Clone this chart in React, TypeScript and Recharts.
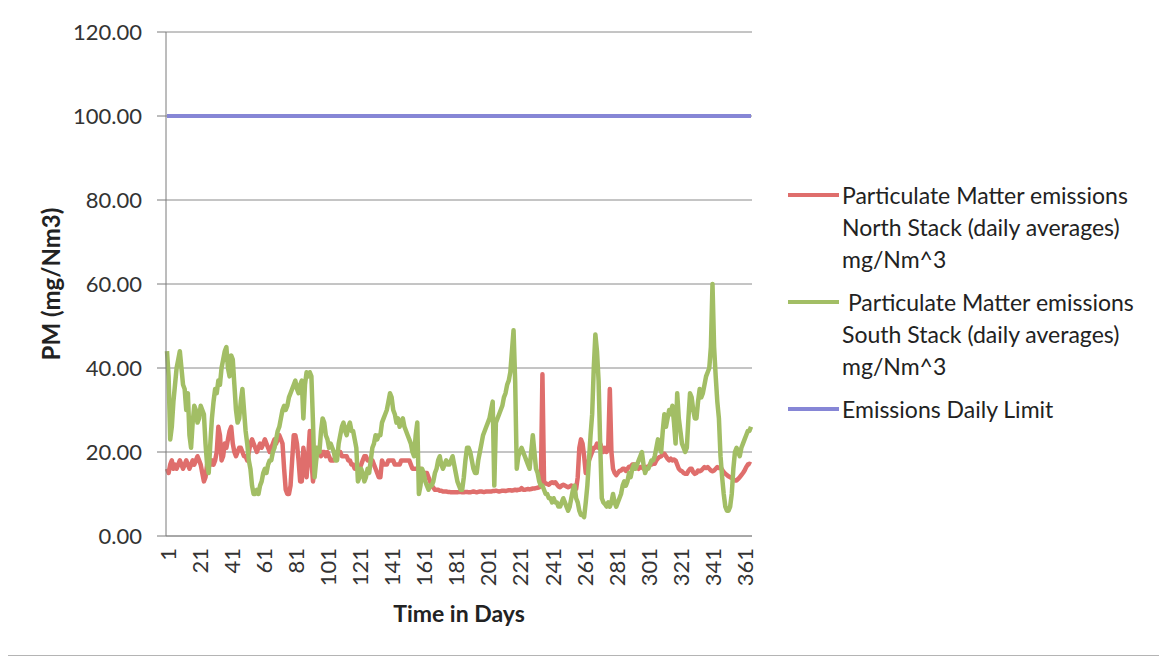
import React from 'react';
import { LineChart, Line, XAxis, YAxis, CartesianGrid, Legend } from 'recharts';

// daily averages, mg/Nm^3
const northStack = [
  16, 15, 17, 18, 16, 17, 16, 17, 18, 17,
  16, 17, 18, 17, 16, 17, 18, 17, 18, 19,
  18, 17, 15, 13, 14, 17, 18, 17, 18, 17,
  18, 20, 26, 24, 18, 19, 22, 21, 23, 25,
  26, 22, 20, 19, 20, 21, 21, 20, 19, 19,
  18, 20, 22, 23, 22, 21, 20, 21, 22, 21,
  22, 23, 22, 21, 20, 21, 22, 23, 22, 23,
  24, 23, 22, 16, 11, 10, 10, 12, 18, 24,
  24, 22, 18, 13, 13, 21, 18, 14, 19, 25,
  18, 13, 16, 21, 20, 20, 19, 20, 20, 19,
  20, 19, 18, 18, 18, 19, 20, 20, 20, 19,
  19, 19, 19, 18, 18, 17, 17, 16, 16, 16,
  16, 17, 18, 19, 19, 18, 18, 18, 18, 17,
  16, 15, 14, 14, 18, 17, 17, 17, 18, 18,
  18, 18, 17, 17, 17, 17, 18, 18, 18, 18,
  18, 18, 17, 16, 16, 16, 16, 16, 16, 15,
  15, 15, 15, 14, 13, 12, 11.5, 11, 11, 11,
  10.8, 10.8, 10.6, 10.6, 10.6, 10.5, 10.5, 10.4, 10.4, 10.4,
  10.4, 10.4, 10.5, 10.5, 10.4, 10.4, 10.5, 10.5, 10.4, 10.4,
  10.5, 10.6, 10.5, 10.4, 10.5, 10.6, 10.6, 10.5, 10.5, 10.6,
  10.6, 10.6, 10.6, 10.7, 10.7, 10.8, 10.7, 10.6, 10.7, 10.8,
  10.8, 10.7, 10.8, 10.9, 10.9, 10.8, 10.9, 11, 10.9, 11,
  11, 11.4, 11, 11, 11.1, 11.2, 11.1, 11.2, 11.3, 11.3,
  11.4, 11.5, 11.6, 12, 38.5, 13, 12.5, 12.4, 12.2, 12.6,
  12.8, 12.6, 12.8, 12.3, 11.8, 11.6, 12, 12.2, 12, 11.8,
  11.6, 11.8, 12, 11.8, 11.6, 11.2, 14, 21, 23, 22,
  19, 15, 16, 18, 19, 20, 21, 21, 22, 21,
  22, 21, 20, 21, 20, 21, 35, 20, 16, 15,
  14.5, 15, 15.5, 15.6, 16, 16, 15.5, 16, 16.5, 16.5,
  17, 17, 17, 16.5, 16, 16.4, 16.4, 16, 16.5, 16.4,
  16.4, 17, 17, 17.2, 17.2, 18, 18.5, 18.8, 19, 19.6,
  19.6, 19, 18.4, 18, 18.4, 18, 18.2, 18, 17, 16,
  15.6, 15.4, 15, 14.8, 14.8, 15.5, 16, 16, 15.2, 14.8,
  15, 15.6, 15.4, 15.6, 16, 16.4, 16.2, 16.4, 16, 15.6,
  15.4, 15.6, 16, 16.4, 16.2, 16.4, 15.8, 15.2, 14.8, 14.5,
  14.2, 14, 13.8, 13.5, 13.2, 13.2, 13.6, 14, 14.5, 15,
  15.6, 16.4, 17, 17.2, 17,
];

const southStack = [
  44, 38, 23, 26, 32, 36, 40, 42, 44, 40,
  36, 35, 30, 34, 24, 21, 27, 31, 30, 27,
  28, 31, 30, 29, 22, 17, 15, 22, 28, 32,
  35, 34, 37, 36, 40, 42, 44, 45, 40, 38,
  43, 42, 36, 30, 27, 28, 32, 35, 30, 25,
  22, 18, 16, 12, 10, 10, 11, 10, 12, 13,
  15, 16, 15, 17, 18, 18, 20, 21, 23, 25,
  26, 28, 30, 31, 30, 31, 33, 34, 35, 36,
  37, 35, 34, 36, 37, 28, 36, 39, 38, 39,
  38, 27, 14, 18, 21, 20, 25, 28, 27, 24,
  23, 21, 22, 21, 20, 18, 18, 22, 24, 26,
  27, 25, 24, 26, 27, 25, 25, 23, 21, 13,
  14, 16, 15, 13, 14, 16, 15, 18, 21, 22,
  24, 23, 24, 24, 27, 28, 29, 30, 32, 34,
  33, 30, 29, 27, 28, 26, 27, 28, 26, 25,
  24, 23, 22, 20, 19, 24, 27, 10, 12, 16,
  15, 13, 12, 11, 12, 12, 13, 15, 16, 18,
  19, 17, 16, 17, 18, 17, 17, 18, 19, 17,
  15, 13, 12, 11, 11, 14, 18, 21, 21, 20,
  18, 16, 15, 15, 18, 20, 22, 24, 25, 26,
  27, 28, 30, 32, 12, 27, 28, 29, 30, 31,
  33, 34, 36, 37, 39, 44, 49, 37, 16, 19,
  20, 21, 20, 19, 18, 17, 16, 20, 24, 20,
  16, 15, 13, 12, 12, 11, 10, 10, 9, 9,
  8, 9, 8, 8, 7, 7, 8, 9, 8, 7,
  6, 7, 9, 11, 12, 9, 8, 6, 5, 5,
  4.5, 8, 12, 18, 24, 29, 40, 48, 44, 37,
  22, 9, 8, 7.6, 7, 8, 7, 8, 10, 8,
  7, 8, 9, 10, 12, 13, 12, 13, 15, 14,
  16, 17, 16, 17, 18, 19, 20, 17, 15, 16,
  16, 17, 18, 18, 19, 21, 23, 21, 20, 25,
  29, 26, 28, 30, 29, 31, 27, 22, 34, 28,
  25, 22, 21, 20, 21, 28, 34, 33, 30, 28,
  28, 32, 35, 33, 34, 36, 38, 39, 40, 45,
  60, 45, 38, 32, 28, 19, 14, 10, 7, 6,
  6, 7, 10, 16, 20, 21, 20, 19, 21, 22,
  23, 24, 25, 25, 26,
];

const dailyLimit = 100;
const yTicks = [0, 20, 40, 60, 80, 100, 120];

const legendItems = [
  { color: '#df6e6c', lines: ['Particulate Matter emissions', 'North Stack (daily averages)', 'mg/Nm^3'] },
  { color: '#a2be65', lines: [' Particulate Matter emissions', 'South Stack (daily averages)', 'mg/Nm^3'] },
  { color: '#8686d6', lines: ['Emissions Daily Limit'] },
];

const data = northStack.map((v, i) => ({
  day: i + 1,
  north: v,
  south: southStack[i],
  limit: dailyLimit,
}));

const font = 'Lato, "Open Sans", sans-serif';

function DayTick(props: any) {
  const { x, y, payload } = props;
  return (
    <text
      x={x}
      y={y}
      transform={`rotate(-90, ${x}, ${y})`}
      textAnchor="end"
      dominantBaseline="central"
      fontSize={22}
      fontFamily={font}
      fill="#333"
    >
      {payload.value}
    </text>
  );
}

function ChartLegend() {
  return (
    <div style={{ fontFamily: font, fontSize: 23, color: '#222' }}>
      {legendItems.map((item, i) => (
        <div key={i} style={{ display: 'flex', alignItems: 'flex-start', marginBottom: 11 }}>
          <div style={{ width: 51, height: 4, background: item.color, marginTop: 14, flexShrink: 0 }} />
          <div style={{ lineHeight: '32px', whiteSpace: 'pre', marginLeft: 3 }}>
            {item.lines.map((l, j) => (
              <div key={j}>{l}</div>
            ))}
          </div>
        </div>
      ))}
    </div>
  );
}

export default function App() {
  return (
    <div
      style={{
        position: 'relative',
        width: 1160,
        height: 649,
        border: '1px solid #b4b4b4',
        marginLeft: -3,
        marginTop: -3,
        background: '#fff',
      }}
    >
      <LineChart
        width={1160}
        height={649}
        data={data}
        margin={{ top: 26, right: 414, left: 10, bottom: 13 }}
      >
        <CartesianGrid vertical={false} stroke="#8a8a8a" />
        <XAxis
          dataKey="day"
          interval={19}
          height={106}
          padding={{ left: 1, right: 1 }}
          stroke="#8a8a8a"
          tickLine={false}
          tickSize={0}
          tickMargin={12}
          tick={<DayTick />}
          label={{
            value: 'Time in Days',
            position: 'insideBottom',
            offset: 20,
            style: { fontFamily: font, fontSize: 23, fontWeight: 700, fill: '#222' },
          }}
        />
        <YAxis
          domain={[0, 120]}
          ticks={yTicks}
          width={150}
          stroke="#7a7a7a"
          tickSize={9}
          tickMargin={15}
          tickFormatter={(v: number) => v.toFixed(2)}
          tick={{ fontFamily: font, fontSize: 22, fill: '#333' }}
          label={{
            value: 'PM (mg/Nm3)',
            angle: -90,
            position: 'insideLeft',
            offset: 35,
            style: { fontFamily: font, fontSize: 24, fontWeight: 700, fill: '#222', textAnchor: 'middle' },
          }}
        />
        <Legend
          layout="vertical"
          align="center"
          verticalAlign="middle"
          wrapperStyle={{ left: 782, top: 173, width: 375 }}
          content={<ChartLegend />}
        />
        <Line
          type="linear"
          dataKey="north"
          name="Particulate Matter emissions North Stack (daily averages) mg/Nm^3"
          stroke={legendItems[0].color}
          strokeWidth={4.5}
          strokeLinejoin="round"
          dot={false}
          isAnimationActive={false}
        />
        <Line
          type="linear"
          dataKey="south"
          name=" Particulate Matter emissions South Stack (daily averages) mg/Nm^3"
          stroke={legendItems[1].color}
          strokeWidth={4.5}
          strokeLinejoin="round"
          dot={false}
          isAnimationActive={false}
        />
        <Line
          type="linear"
          dataKey="limit"
          name="Emissions Daily Limit"
          stroke={legendItems[2].color}
          strokeWidth={4}
          dot={false}
          isAnimationActive={false}
        />
      </LineChart>
    </div>
  );
}
